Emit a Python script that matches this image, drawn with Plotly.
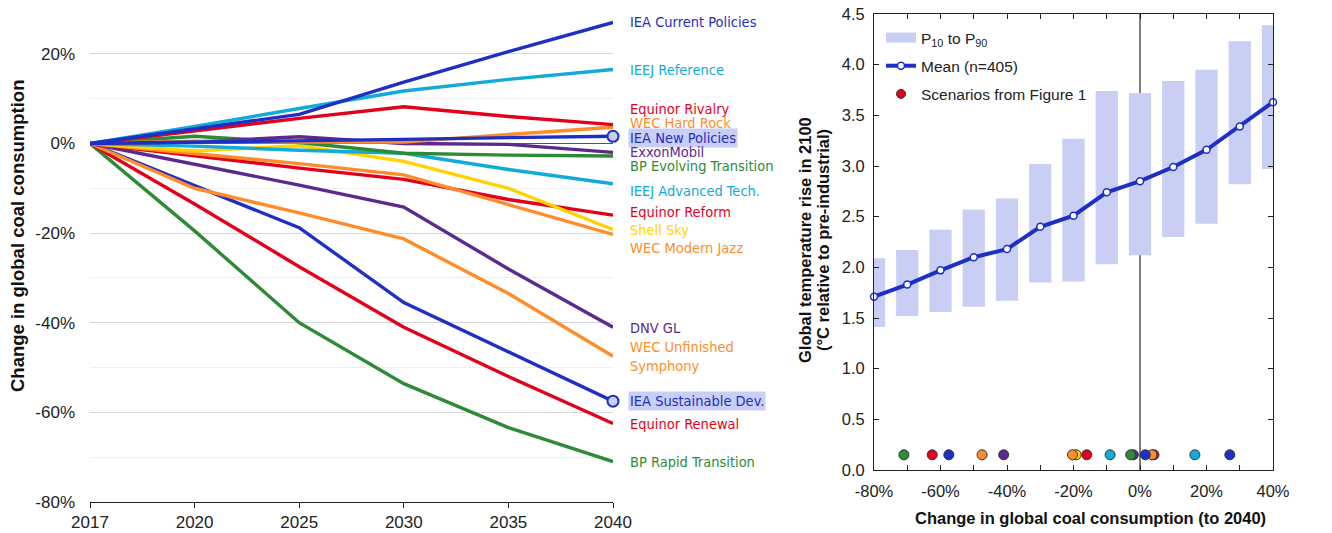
import plotly.graph_objects as go

# %% data
years = ["2017", "2020", "2025", "2030", "2035", "2040"]

scenarios = [
    "IEA Current Policies", "IEEJ Reference", "Equinor Rivalry", "WEC Hard Rock",
    "IEA New Policies", "ExxonMobil", "BP Evolving Transition", "IEEJ Advanced Tech.",
    "Shell Sky", "WEC Modern Jazz", "Equinor Reform", "DNV GL",
    "WEC Unfinished<br>Symphony", "IEA Sustainable Dev.", "Equinor Renewal", "BP Rapid Transition",
]

iea_current = [0, 3.3, 6.5, 13.7, 20.5, 27.0]
ieej_reference = [0, 3.8, 7.8, 11.7, 14.3, 16.5]
equinor_rivalry = [0, 2.8, 5.6, 8.2, 6.0, 4.2]
wec_hard_rock = [0, 0.5, 0.3, 0.3, 2.0, 3.6]
iea_new = [0, 0.3, 0.5, 0.9, 1.3, 1.6]
exxonmobil = [0, 0.3, 1.5, 0.0, -0.2, -2.0]
bp_evolving = [0, 1.6, 0.2, -2.2, -2.6, -2.8]
ieej_advanced = [0, -0.6, -1.5, -2.2, -5.8, -9.0]
shell_sky = [0, -1.7, -0.5, -4.0, -10.0, -19.2]
wec_modern_jazz = [0, -2.2, -4.5, -7.0, -13.6, -20.3]
equinor_reform = [0, -2.8, -5.5, -8.0, -12.5, -16.0]
dnv_gl = [0, -4.7, -9.3, -14.2, -28.0, -41.0]
wec_unfinished = [0, -10.0, -15.5, -21.3, -33.5, -47.5]
iea_sustainable = [0, -9.5, -18.8, -35.5, -46.5, -57.5]
equinor_renewal = [0, -13.5, -27.5, -41.0, -52.0, -62.5]
bp_rapid = [0, -19.5, -40.0, -53.6, -63.4, -71.0]

series = [iea_current, ieej_reference, equinor_rivalry, wec_hard_rock, iea_new, exxonmobil,
          bp_evolving, ieej_advanced, shell_sky, wec_modern_jazz, equinor_reform, dnv_gl,
          wec_unfinished, iea_sustainable, equinor_renewal, bp_rapid]

# binned results (right panel)
coal_bins = [-80, -70, -60, -50, -40, -30, -20, -10, 0, 10, 20, 30, 40]
p10 = [1.41, 1.52, 1.56, 1.61, 1.67, 1.85, 1.86, 2.03, 2.12, 2.30, 2.43, 2.82, 2.97]
p90 = [2.09, 2.17, 2.37, 2.57, 2.68, 3.02, 3.27, 3.74, 3.72, 3.84, 3.95, 4.23, 4.39]
mean_temp = [1.71, 1.83, 1.97, 2.10, 2.18, 2.40, 2.51, 2.74, 2.85, 2.99, 3.16, 3.39, 3.63]
dot_level = 0.15

left_yticks = [-80, -60, -40, -20, 0, 20]
left_yticktext = ["-80%", "-60%", "-40%", "-20%", "0%", "20%"]
right_xticks = [-80, -70, -60, -50, -40, -30, -20, -10, 0, 10, 20, 30, 40]
right_xticktext = ["-80%", "", "-60%", "", "-40%", "", "-20%", "", "0%", "", "20%", "", "40%"]

# %% styling
W, H = 1332, 533
BLUE = "#1d2fc4"
CYAN = "#12aad8"
RED = "#e2001a"
ORANGE = "#ff8c2a"
YELLOW = "#ffd200"
GREEN = "#2e8b35"
PURPLE = "#5c2a8e"
LIGHT = "#c9cef5"

colors = [BLUE, CYAN, RED, ORANGE, BLUE, PURPLE, GREEN, CYAN, YELLOW, ORANGE, RED, PURPLE,
          ORANGE, BLUE, RED, GREEN]
highlight = ["IEA New Policies", "IEA Sustainable Dev."]

# label positions (in left axis units), spread so they don't collide
label_y = [27.2, 16.5, 7.6, 4.5, 1.3, -2.0, -5.1, -10.5, -19.4, -23.4, -15.4, -41.1,
           -47.5, -57.4, -62.5, -71.0]

SANS = "Liberation Sans, Arial, sans-serif"
LABELFONT = "Liberation Sans Narrow, DejaVu Sans Condensed, Arial Narrow, sans-serif"

fig = go.Figure()

# draw order: bottom lines first so the top ones sit above
order = [15, 14, 13, 12, 11, 10, 9, 8, 7, 6, 5, 3, 2, 1, 4, 0]
for i in order:
    fig.add_trace(go.Scatter(
        x=years, y=series[i], mode="lines",
        line=dict(color=colors[i], width=3.4),
        showlegend=False, hoverinfo="skip",
        xaxis="x", yaxis="y",
    ))

for name in highlight:
    i = scenarios.index(name)
    fig.add_trace(go.Scatter(
        x=[years[-1]], y=[series[i][-1]], mode="markers",
        marker=dict(size=11, color=LIGHT, line=dict(color=BLUE, width=2)),
        showlegend=False, xaxis="x", yaxis="y", cliponaxis=False,
    ))

for i, name in enumerate(scenarios):
    hl = name in highlight
    fig.add_annotation(
        x=628 / W, xref="paper", y=label_y[i], yref="y",
        text=name, showarrow=False, xanchor="left", yanchor="middle", align="left",
        font=dict(family=LABELFONT, size=14.5, color=colors[i]),
        bgcolor=LIGHT if hl else None, borderpad=1,
    )

# axis titles as annotations so they sit where the reference has them
titles = [
    (17, 236, "<b>Change in global coal consumption</b>", -90, 18.5),
    (1090, 518, "<b>Change in global coal consumption (to 2040)</b>", 0, 16.5),
    (805, 240, "<b>Global temperature rise in 2100</b>", -90, 16.5),
    (823, 240, "<b>(°C relative to pre-industrial)</b>", -90, 16.5),
]
for tx, ty, txt, ang, sz in titles:
    fig.add_annotation(
        x=tx / W, xref="paper", y=1 - ty / H, yref="paper",
        text=txt, textangle=ang, showarrow=False, xanchor="center", yanchor="middle",
        font=dict(family=SANS, size=sz, color="#111"),
    )

# %% right panel
fig.add_trace(go.Bar(
    x=coal_bins, y=[b - a for a, b in zip(p10, p90)], base=p10, width=6.7,
    marker=dict(color=LIGHT, line=dict(width=0)),
    showlegend=False, xaxis="x2", yaxis="y2",
))
# legend swatch for the bars (wide flat box like the original)
fig.add_trace(go.Scatter(
    x=[None], y=[None], mode="lines", line=dict(color=LIGHT, width=10),
    name="P<sub>10</sub> to P<sub>90</sub>", legendgroup="a", xaxis="x2", yaxis="y2",
))
fig.add_trace(go.Scatter(
    x=coal_bins, y=mean_temp, mode="lines+markers",
    line=dict(color=BLUE, width=4),
    marker=dict(size=7, color="white", line=dict(color=BLUE, width=1.5)),
    name="Mean (n=405)", legendgroup="b", xaxis="x2", yaxis="y2", cliponaxis=False,
))
fig.add_trace(go.Scatter(
    x=[None], y=[None], mode="markers",
    marker=dict(size=9, color=RED, line=dict(color="#333", width=1)),
    name="Scenarios from Figure 1", legendgroup="c", xaxis="x2", yaxis="y2",
))
fig.add_trace(go.Scatter(
    x=[s[-1] for s in series], y=[dot_level] * len(series), mode="markers",
    marker=dict(size=10, color=colors, line=dict(color="#333", width=1)),
    showlegend=False, xaxis="x2", yaxis="y2",
))

fig.add_shape(type="line", x0=0, x1=0, y0=0, y1=4.5, xref="x2", yref="y2",
              line=dict(color="black", width=1), layer="below")

fig.update_layout(
    width=W, height=H,
    margin=dict(l=0, r=0, t=0, b=0),
    paper_bgcolor="white", plot_bgcolor="white",
    barmode="overlay",
    xaxis=dict(
        domain=[90 / W, 613 / W], type="category", range=[0, 5],
        showgrid=False, showline=True, linecolor="#222", linewidth=1,
        ticks="outside", ticklen=5, tickcolor="#222",
        tickfont=dict(family=SANS, size=17, color="#222"),
        automargin=False, anchor="y",
    ),
    yaxis=dict(
        domain=[1 - 502 / H, 1 - 9 / H], range=[-80, 30],
        tickvals=left_yticks, ticktext=left_yticktext,
        tickfont=dict(family=SANS, size=17, color="#222"), ticklabelstandoff=14,
        showgrid=True, gridcolor="#d6d6d6", gridwidth=1,
        minor=dict(dtick=10, showgrid=True, gridcolor="#efefef"),
        zeroline=True, zerolinecolor="#555", zerolinewidth=1,
        showline=False, ticks="", automargin=False, anchor="x",
    ),
    xaxis2=dict(
        domain=[874 / W, 1273 / W], range=[-80, 40],
        tickvals=right_xticks, ticktext=right_xticktext,
        ticks="inside", ticklen=5, tickcolor="#222", ticklabelstandoff=6,
        showline=True, linecolor="#222", linewidth=1, mirror="ticks",
        showgrid=False, zeroline=False,
        tickfont=dict(family=SANS, size=16.5, color="#222"),
        automargin=False, anchor="y2",
    ),
    yaxis2=dict(
        domain=[1 - 470 / H, 1 - 14 / H], range=[0, 4.5], dtick=0.5, tickformat=".1f",
        ticks="inside", ticklen=5, tickcolor="#222", ticklabelstandoff=5,
        showline=True, linecolor="#222", linewidth=1, mirror="ticks",
        showgrid=False, zeroline=False,
        tickfont=dict(family=SANS, size=16.5, color="#222"),
        automargin=False, anchor="x2",
    ),
    legend=dict(
        x=881 / W, y=1 - 21 / H, xanchor="left", yanchor="top",
        bgcolor="rgba(0,0,0,0)", traceorder="grouped", tracegroupgap=5,
        font=dict(family=SANS, size=15.5, color="#222"),
        itemwidth=30,
    ),
)

# drop the browser's default body margin so the figure sits at the page corner
fig.write_html("out.html", config={"displayModeBar": False},
               post_script="document.body.style.margin = '0';")
